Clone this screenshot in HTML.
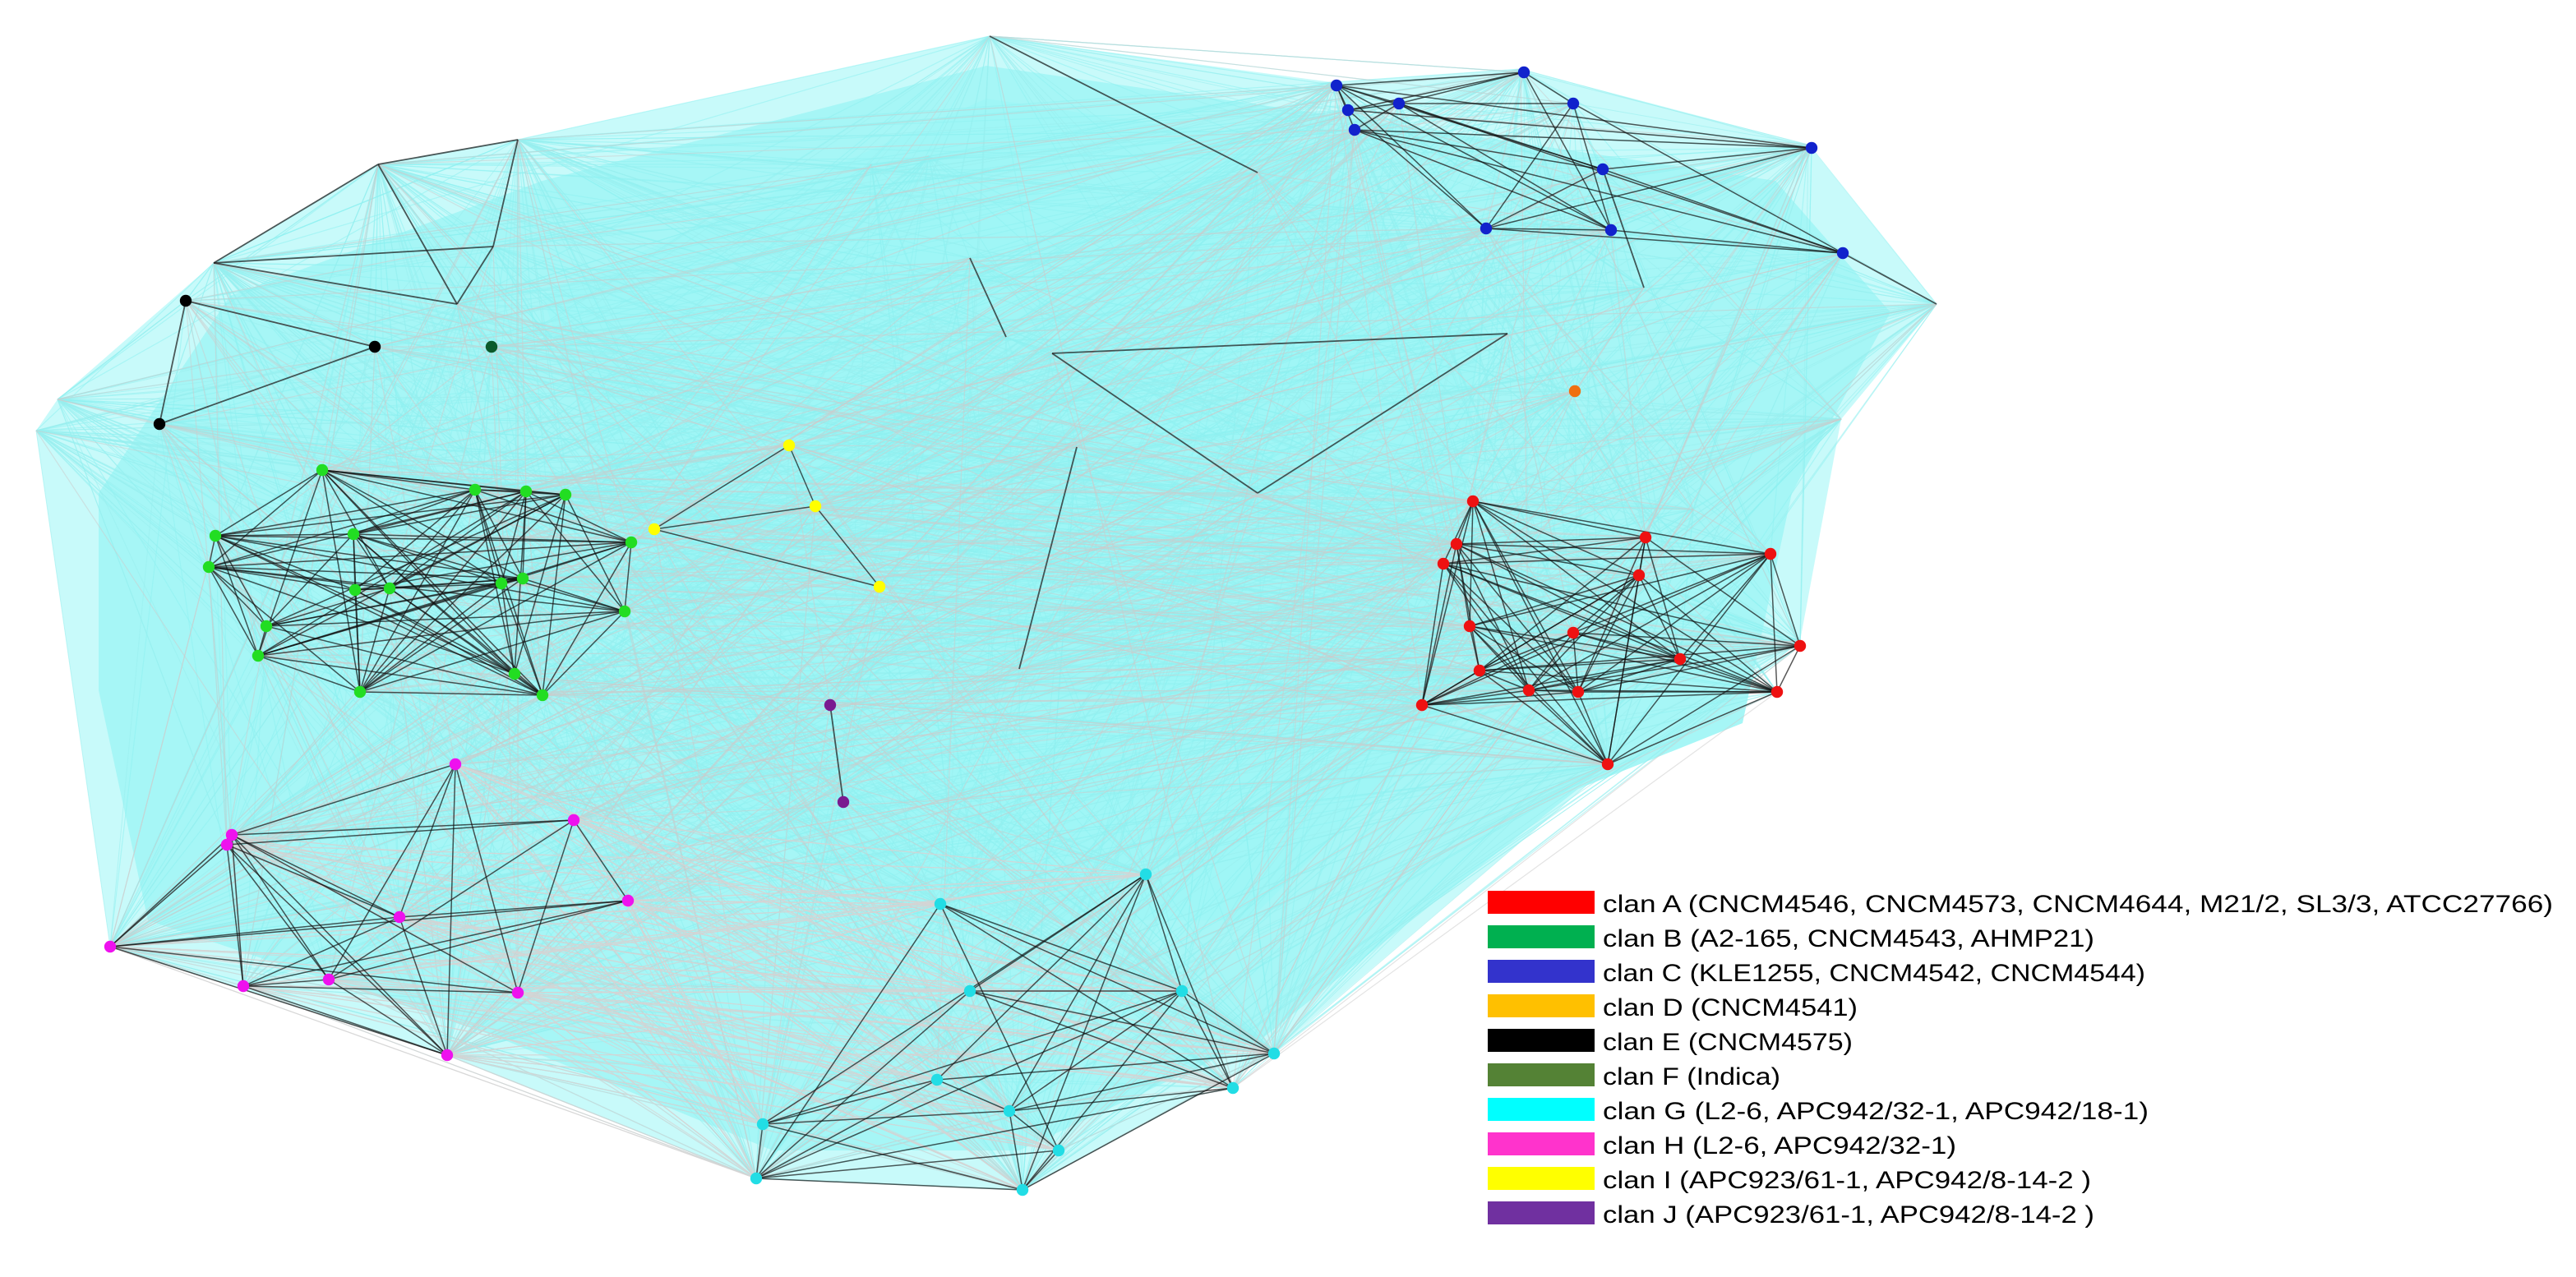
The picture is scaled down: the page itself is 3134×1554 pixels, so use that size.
<!DOCTYPE html>
<html><head><meta charset="utf-8"><style>
html,body{margin:0;padding:0;background:#fff;width:3134px;height:1554px;overflow:hidden}
svg{display:block}
</style></head><body>
<svg id="s" width="3134" height="1554" viewBox="0 0 1567 777" xmlns="http://www.w3.org/2000/svg">
<polygon points="22,262 35,243 130,160 230,100 315,85 602,22 810,50 925,42 1100,88 1178,185 1120,255 1095,390 980,465 775,640 622,724 460,717 272,642 67,576" fill="#c8fafa"/>
<polygon points="60,300 140,180 330,110 600,40 810,70 1080,110 1150,190 1090,300 1060,440 960,480 770,630 620,700 470,700 300,630 90,560 60,420" fill="#a6f6f6"/>
<polygon points="330,180 600,60 800,90 900,200 880,440 760,560 560,560 420,480 380,330" fill="#9ff6f6"/>
<g id="edges"></g>
<g id="nodes"></g>
<g font-family="'Liberation Sans Narrow','Liberation Sans',sans-serif" font-size="15" fill="#000">
<rect x="905" y="542" width="65" height="14" fill="#ff0000"/><text x="975" y="555" textLength="578" lengthAdjust="spacingAndGlyphs">clan A (CNCM4546, CNCM4573, CNCM4644, M21/2, SL3/3, ATCC27766)</text>
<rect x="905" y="563" width="65" height="14" fill="#00b050"/><text x="975" y="576" textLength="299" lengthAdjust="spacingAndGlyphs">clan B (A2-165, CNCM4543, AHMP21)</text>
<rect x="905" y="584" width="65" height="14" fill="#3333cc"/><text x="975" y="597" textLength="330" lengthAdjust="spacingAndGlyphs">clan C (KLE1255, CNCM4542, CNCM4544)</text>
<rect x="905" y="605" width="65" height="14" fill="#ffc000"/><text x="975" y="618" textLength="155" lengthAdjust="spacingAndGlyphs">clan D (CNCM4541)</text>
<rect x="905" y="626" width="65" height="14" fill="#000000"/><text x="975" y="639" textLength="152" lengthAdjust="spacingAndGlyphs">clan E (CNCM4575)</text>
<rect x="905" y="647" width="65" height="14" fill="#548235"/><text x="975" y="660" textLength="108" lengthAdjust="spacingAndGlyphs">clan F (Indica)</text>
<rect x="905" y="668" width="65" height="14" fill="#00ffff"/><text x="975" y="681" textLength="332" lengthAdjust="spacingAndGlyphs">clan G (L2-6, APC942/32-1, APC942/18-1)</text>
<rect x="905" y="689" width="65" height="14" fill="#ff33cc"/><text x="975" y="702" textLength="215" lengthAdjust="spacingAndGlyphs">clan H (L2-6, APC942/32-1)</text>
<rect x="905" y="710" width="65" height="14" fill="#ffff00"/><text x="975" y="723" textLength="297" lengthAdjust="spacingAndGlyphs">clan I (APC923/61-1, APC942/8-14-2 )</text>
<rect x="905" y="731" width="65" height="14" fill="#7030a0"/><text x="975" y="744" textLength="299" lengthAdjust="spacingAndGlyphs">clan J (APC923/61-1, APC942/8-14-2 )</text>
</g>
</svg>
<script>
(function(){
var NS="http://www.w3.org/2000/svg";
var E=document.getElementById("edges"),N=document.getElementById("nodes");
var seed=12345;function r(){seed=(seed*16807)%2147483647;return seed/2147483647;}
function L(a,b,c,w,o){var l=document.createElementNS(NS,"line");l.setAttribute("x1",a[0]);l.setAttribute("y1",a[1]);l.setAttribute("x2",b[0]);l.setAttribute("y2",b[1]);l.setAttribute("stroke",c);l.setAttribute("stroke-width",w);l.setAttribute("stroke-opacity",o);E.appendChild(l);}
var C={
A:{c:"#ee1111",p:[[896,305],[886,331],[878,343],[1001,327],[1077,337],[997,350],[894,381],[957,385],[1095,393],[900,408],[1022,401],[930,420],[960,421],[1081,421],[865,429],[978,465]]},
B:{c:"#22dd22",p:[[196,286],[289,298],[320,299],[344,301],[131,326],[215,325],[384,330],[127,345],[216,359],[305,355],[318,352],[237,358],[380,372],[162,381],[157,399],[313,410],[219,421],[330,423]]},
C:{c:"#1122cc",p:[[813,52],[927,44],[820,67],[851,63],[957,63],[824,79],[975,103],[1102,90],[904,139],[980,140],[1121,154]]},
E:{c:"#000000",p:[[113,183],[228,211],[97,258]]},
F:{c:"#0b5a2a",p:[[299,211]]},
D:{c:"#f07010",p:[[958,238]]},
I:{c:"#ffff00",p:[[480,271],[496,308],[398,322],[535,357]]},
J:{c:"#7a1a90",p:[[505,429],[513,488]]},
H:{c:"#ee11ee",p:[[277,465],[349,499],[141,508],[138,514],[382,548],[243,558],[67,576],[200,596],[148,600],[315,604],[272,642]]},
G:{c:"#22dde5",p:[[697,532],[572,550],[590,603],[719,603],[775,641],[570,657],[750,662],[614,676],[644,700],[464,684],[460,717],[622,724]]}
};
var hull=[[22,262],[35,243],[130,160],[230,100],[315,85],[602,22],[810,50],[925,42],[1100,88],[1178,185],[1120,255],[1095,390],[980,465],[775,640],[622,724],[460,717],[272,642],[67,576]];
var extra=[[230,100],[315,85],[130,160],[300,150],[278,185],[640,215],[917,203],[765,300],[590,157],[612,205],[655,272],[620,407],[765,105],[565,95],[530,100],[735,325],[790,255],[1000,175],[1030,310]];
var all=[];for(var k in C){C[k].p.forEach(function(p){all.push(p);});}
var pts=all.concat(hull).concat(extra);
for(var i=0;i<1400;i++){var a=pts[Math.floor(r()*pts.length)],b=pts[Math.floor(r()*pts.length)];L(a,b,"#8ef0f0",0.6,0.55);}
hull.forEach(function(h){for(var j=0;j<25;j++){L(h,all[Math.floor(r()*all.length)],"#99eeee",0.5,0.6);}});
for(var i=0;i<500;i++){var a=pts[Math.floor(r()*pts.length)],b=all[Math.floor(r()*all.length)];L(a,b,"#cccccc",0.6,0.55);}
for(var i=0;i<200;i++){L(C.H.p[Math.floor(r()*11)],C.G.p[Math.floor(r()*12)],"#d4d4d4",0.6,0.7);}
var sk=[[[230,100],[315,85]],[[230,100],[130,160]],[[130,160],[300,150]],[[300,150],[278,185]],[[230,100],[278,185]],[[315,85],[300,150]],[[130,160],[278,185]],[[640,215],[917,203]],[[917,203],[765,300]],[[765,300],[640,215]],[[590,157],[612,205]],[[655,272],[620,407]],[[602,22],[765,105]],[[113,183],[228,211]],[[113,183],[97,258]],[[97,258],[228,211]],[[505,429],[513,488]],[[1000,175],[975,103]],[[1121,154],[1178,185]]];
sk.forEach(function(s){L(s[0],s[1],"#222",0.9,0.75);});
["A","B","C","H","G","I"].forEach(function(k){var p=C[k].p,n=p.length,prob=(k=="A"||k=="B")?0.75:0.55;
 for(var i=0;i<n;i++)for(var j=i+1;j<n;j++){if(r()<prob)L(p[i],p[j],"#111",0.75,0.7);}});
for(var k in C){C[k].p.forEach(function(p){var c=document.createElementNS(NS,"circle");c.setAttribute("cx",p[0]);c.setAttribute("cy",p[1]);c.setAttribute("r",3.6);c.setAttribute("fill",C[k].c);N.appendChild(c);});}
})();
</script>
</body></html>
